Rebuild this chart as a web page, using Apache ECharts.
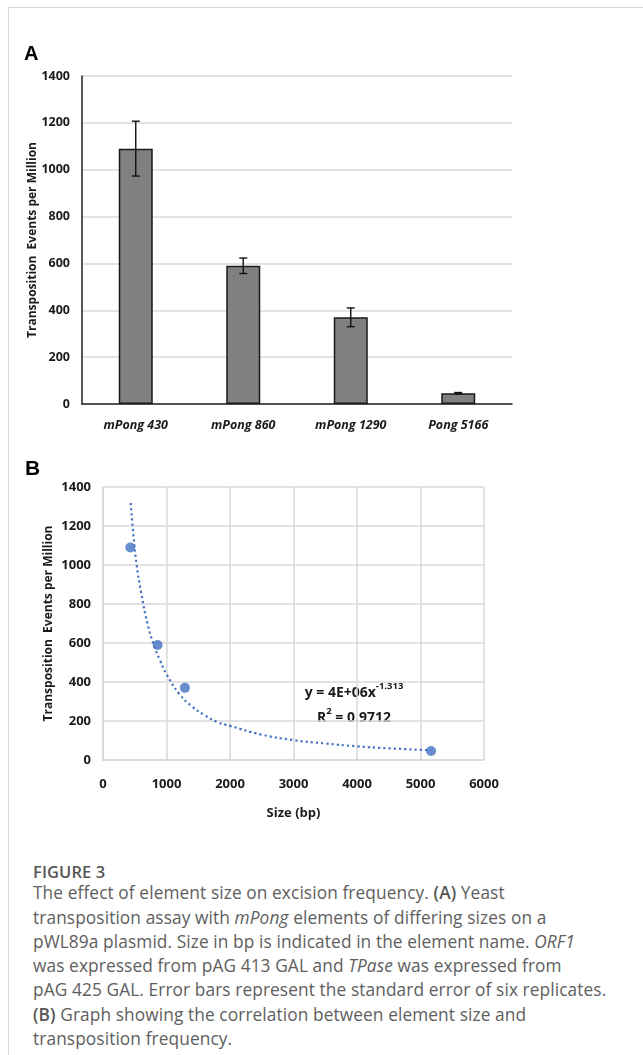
<!DOCTYPE html>
<html>
<head>
<meta charset="utf-8">
<script src="https://cdn.jsdelivr.net/npm/echarts@6/dist/echarts.min.js"></script>
<style>
  html, body { margin: 0; padding: 0; background: #fff; width: 643px; height: 1055px; overflow: hidden; }
  .frame { position: absolute; left: 8px; top: 7px; right: 0; bottom: 0; border-left: 1px solid #d9d9d9; border-top: 1px solid #d9d9d9; }
  #chart { position: absolute; left: 0; top: 0; width: 643px; height: 830px; }
  .caption { position: absolute; left: 33px; top: 857px; font-family: 'Open Sans', sans-serif; color: #5e5e5e; font-size: 17.3px; line-height: 24.3px; letter-spacing: 0.1px; white-space: nowrap; }
  .caption .fig { color: #555; font-weight: 600; font-size: 16.5px; position: relative; top: 3px; }
  .caption b { font-weight: 600; color: #555; }
</style>
</head>
<body>
<div class="frame"></div>
<div id="chart"></div>
<div class="caption">
  <div class="fig">FIGURE 3</div>
  The effect of element size on excision frequency. <b>(A)</b> Yeast<br>
  transposition assay with <i>mPong</i> elements of differing sizes on a<br>
  pWL89a plasmid. Size in bp is indicated in the element name. <i>ORF1</i><br>
  was expressed from pAG 413 GAL and <i>TPase</i> was expressed from<br>
  pAG 425 GAL. Error bars represent the standard error of six replicates.<br>
  <b>(B)</b> Graph showing the correlation between element size and<br>
  transposition frequency.
</div>
<script>
// panel A: transposition per element
const elements = ['mPong 430', 'mPong 860', 'mPong 1290', 'Pong 5166']
const events = [1090, 590, 370, 46]
const stdErr = [117, 33, 40, 3]

// panel B: size vs frequency, plus the power trendline
const sizes = [430, 860, 1290, 5166]
const trendX = [436, 480, 530, 600, 700, 800, 900, 1000, 1200, 1400, 1600, 1800, 2000, 2500, 3000, 3500, 4000, 4500, 5166]
const trendY = [1318, 1150, 1000, 860, 700, 590, 510, 440, 340, 275, 230, 195, 175, 130, 102, 85, 70, 60, 50]

const yMax = 1400
const yStep = 200
const xMax = 6000
const xStep = 1000

const tickFont = "'Open Sans', sans-serif"
const gridColor = '#d9d9d9'
const blue = '#4472c4'

const errData = elements.map((c, i) => [i, events[i] - stdErr[i], events[i] + stdErr[i]])
const plain = (v) => String(v)

const myChart = echarts.init(document.getElementById('chart'))

const option = {
  animation: false,
  textStyle: { fontFamily: tickFont },
  grid: [
    { left: 82, top: 76, width: 430, height: 328 },
    { left: 103, top: 487, width: 381, height: 273 }
  ],
  xAxis: [
    {
      type: 'category',
      gridIndex: 0,
      data: elements,
      axisLine: { lineStyle: { color: '#222', width: 1.5 } },
      axisTick: { show: false },
      axisLabel: { color: '#1a1a1a', fontSize: 12.5, fontWeight: 'bold', fontStyle: 'italic', margin: 15 }
    },
    {
      type: 'value',
      gridIndex: 1,
      min: 0,
      max: xMax,
      interval: xStep,
      name: 'Size (bp)',
      nameLocation: 'middle',
      nameGap: 47,
      nameTextStyle: { color: '#1a1a1a', fontSize: 13, fontWeight: 'bold' },
      axisLine: { lineStyle: { color: gridColor, width: 1.5 } },
      axisTick: { show: false },
      axisLabel: { color: '#1a1a1a', fontSize: 13, fontWeight: 'bold', margin: 18, formatter: plain },
      splitLine: { lineStyle: { color: gridColor, width: 1.5 } }
    }
  ],
  yAxis: [
    {
      type: 'value',
      gridIndex: 0,
      min: 0,
      max: yMax,
      interval: yStep,
      name: 'Transposition  Events per Million',
      nameLocation: 'middle',
      nameMoveOverlap: false,
      nameGap: 43,
      nameTextStyle: { color: '#1a1a1a', fontSize: 12, fontWeight: 'bold' },
      axisLine: { show: true, lineStyle: { color: '#222', width: 1.5 } },
      axisTick: { show: false },
      axisLabel: { color: '#1a1a1a', fontSize: 12.5, fontWeight: 'bold', margin: 12, formatter: plain },
      splitLine: { lineStyle: { color: gridColor, width: 1.5 } }
    },
    {
      type: 'value',
      gridIndex: 1,
      min: 0,
      max: yMax,
      interval: yStep,
      name: 'Transposition  Events per Million',
      nameLocation: 'middle',
      nameMoveOverlap: false,
      nameGap: 48,
      nameTextStyle: { color: '#1a1a1a', fontSize: 12, fontWeight: 'bold' },
      axisLine: { show: true, lineStyle: { color: gridColor, width: 1.5 } },
      axisTick: { show: false },
      axisLabel: { color: '#1a1a1a', fontSize: 13, fontWeight: 'bold', margin: 12, formatter: plain },
      splitLine: { lineStyle: { color: gridColor, width: 1.5 } }
    }
  ],
  graphic: [
    { type: 'text', left: 24, top: 44, style: { text: 'A', fontSize: 20, fontWeight: 'bold', fontFamily: "'Liberation Sans', Arial, sans-serif", fill: '#000' } },
    { type: 'text', left: 25, top: 459, style: { text: 'B', fontSize: 21, fontWeight: 'bold', fontFamily: "'Liberation Sans', Arial, sans-serif", fill: '#000' } },
    {
      type: 'text',
      x: 354,
      y: 706,
      style: {
        text: '{n|y = 4E+06x}{s|-1.313}\n{n|R}{s|2}{n| = 0.9712}',
        align: 'center',
        verticalAlign: 'middle',
        rich: {
          n: { fontSize: 14, fontWeight: 'bold', fontFamily: tickFont, fill: '#1a1a1a', lineHeight: 25, verticalAlign: 'middle' },
          s: { fontSize: 9.5, fontWeight: 'bold', fontFamily: tickFont, fill: '#1a1a1a', lineHeight: 17, verticalAlign: 'top' }
        }
      }
    }
  ],
  series: [
    {
      type: 'bar',
      xAxisIndex: 0,
      yAxisIndex: 0,
      data: events,
      barWidth: 34,
      itemStyle: { color: '#808080', borderColor: '#1a1a1a', borderWidth: 1.5 },
      z: 2
    },
    {
      type: 'custom',
      xAxisIndex: 0,
      yAxisIndex: 0,
      data: errData,
      z: 3,
      renderItem: function (params, api) {
        const idx = api.value(0)
        const lo = api.coord([idx, api.value(1)])
        const hi = api.coord([idx, api.value(2)])
        const half = 4
        const style = { stroke: '#111', lineWidth: 1.4 }
        return {
          type: 'group',
          children: [
            { type: 'line', shape: { x1: lo[0], y1: lo[1], x2: hi[0], y2: hi[1] }, style: style },
            { type: 'line', shape: { x1: lo[0] - half, y1: lo[1], x2: lo[0] + half, y2: lo[1] }, style: style },
            { type: 'line', shape: { x1: hi[0] - half, y1: hi[1], x2: hi[0] + half, y2: hi[1] }, style: style }
          ]
        }
      }
    },
    {
      type: 'line',
      xAxisIndex: 1,
      yAxisIndex: 1,
      data: trendX.map((x, i) => [x, trendY[i]]),
      smooth: true,
      showSymbol: false,
      lineStyle: { color: blue, width: 2.2, type: [2.2, 3] },
      z: 2
    },
    {
      type: 'scatter',
      xAxisIndex: 1,
      yAxisIndex: 1,
      data: sizes.map((x, i) => [x, events[i]]),
      symbolSize: 10,
      itemStyle: { color: blue },
      z: 3
    }
  ]
}

myChart.setOption(option)
</script>
</body>
</html>
